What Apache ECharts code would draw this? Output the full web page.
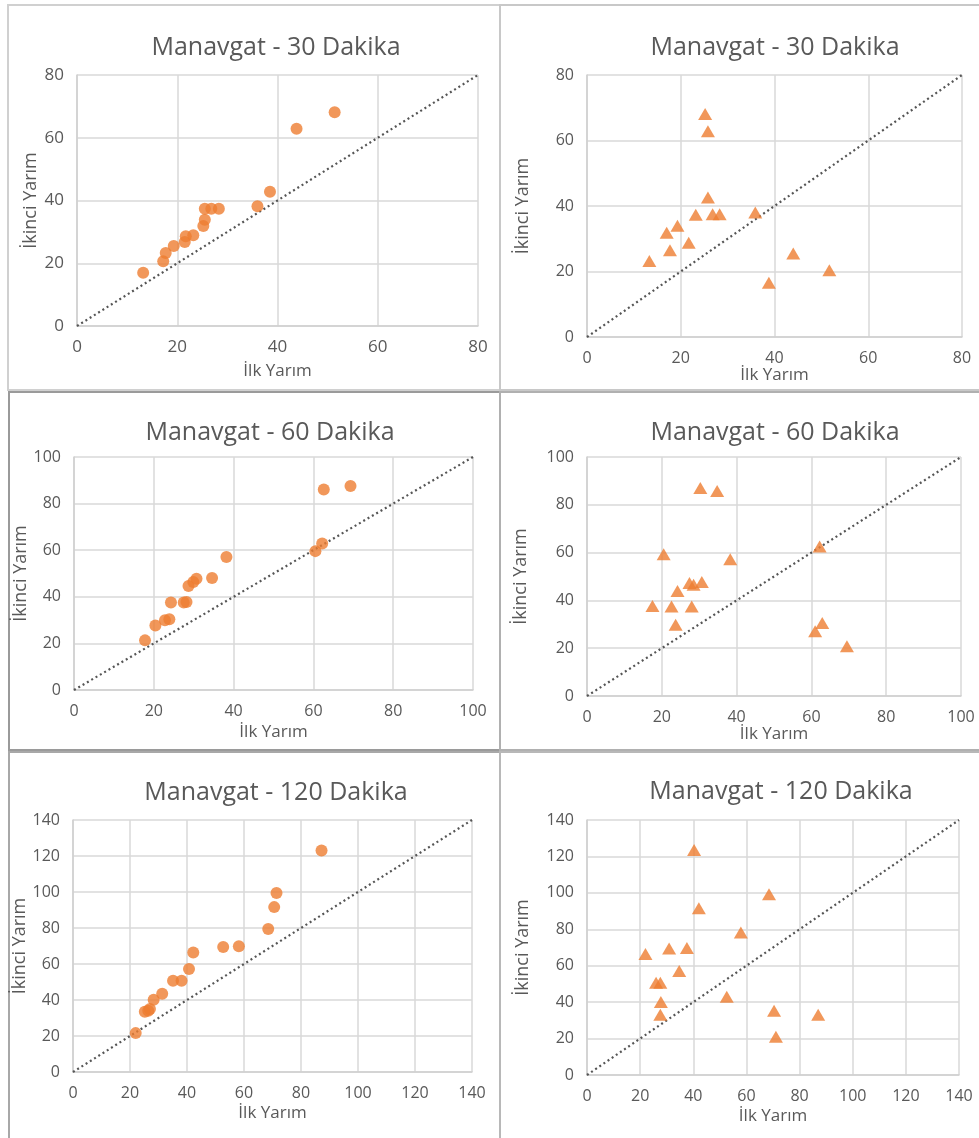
<!DOCTYPE html>
<html>
<head>
<meta charset="utf-8">
<script src="https://cdn.jsdelivr.net/npm/echarts@6/dist/echarts.min.js"></script>
<style>
  html, body { margin: 0; padding: 0; background: #fff; }
  #chart { width: 979px; height: 1138px; }
</style>
</head>
<body>
<div id="chart"></div>
<script>
// Manavgat: first-half vs second-half values for three durations
const ilk30A = [13.2, 17.2, 17.7, 19.3, 21.5, 21.7, 23.2, 25.2, 25.5, 25.5, 26.8, 28.3, 36.0, 38.5, 43.8, 51.4];
const ikinci30A = [17.0, 20.6, 23.3, 25.5, 26.8, 28.6, 28.9, 31.9, 33.9, 37.4, 37.4, 37.4, 38.2, 42.8, 62.9, 68.1];

const ilk30B = [25.2, 25.8, 25.8, 23.2, 26.8, 28.3, 35.9, 19.3, 17.0, 21.7, 17.7, 13.3, 44.0, 51.7, 38.8];
const ikinci30B = [68.1, 62.8, 42.6, 37.3, 37.5, 37.5, 38.0, 34.0, 31.8, 28.8, 26.5, 23.2, 25.5, 20.4, 16.6];

const ilk60A = [17.8, 20.4, 22.8, 23.9, 24.3, 27.5, 28.2, 28.7, 29.9, 30.7, 34.6, 38.2, 60.5, 62.2, 62.6, 69.3];
const ikinci60A = [21.3, 27.7, 29.9, 30.4, 37.6, 37.6, 37.8, 44.6, 46.4, 47.7, 48.1, 57.1, 59.6, 62.9, 86.1, 87.6];

const ilk60B = [30.3, 34.8, 20.5, 38.3, 27.4, 28.5, 30.7, 24.2, 17.5, 22.6, 28.0, 23.7, 62.2, 62.9, 61.0, 69.5];
const ikinci60B = [87.0, 85.8, 59.3, 57.2, 47.3, 46.6, 47.7, 43.9, 37.7, 37.4, 37.4, 29.8, 62.6, 30.5, 27.1, 20.8];

const ilk120A = [22.0, 25.2, 26.4, 27.0, 28.3, 31.3, 35.1, 38.1, 40.7, 42.2, 52.7, 58.2, 68.5, 70.6, 71.4, 87.2];
const ikinci120A = [21.6, 33.5, 34.0, 35.0, 40.1, 43.5, 50.7, 50.7, 57.2, 66.4, 69.4, 69.8, 79.4, 91.6, 99.4, 123.0];

const ilk120B = [40.3, 68.5, 42.1, 57.9, 22.0, 30.9, 37.6, 34.7, 26.0, 27.6, 27.8, 27.6, 52.6, 70.4, 87.0, 71.1];
const ikinci120B = [123.5, 99.2, 91.5, 78.3, 66.4, 69.4, 69.7, 57.1, 50.7, 50.7, 40.1, 33.1, 43.0, 35.3, 33.1, 21.0];

const titles = ['Manavgat - 30 Dakika', 'Manavgat - 30 Dakika', 'Manavgat - 60 Dakika',
                'Manavgat - 60 Dakika', 'Manavgat - 120 Dakika', 'Manavgat - 120 Dakika'];
const axisMax = [80, 80, 100, 100, 140, 140];
const xName = 'İlk Yarım';
const yName = 'İkinci Yarım';

const panels = [
  { x: ilk30A, y: ikinci30A, symbol: 'circle' },
  { x: ilk30B, y: ikinci30B, symbol: 'triangle' },
  { x: ilk60A, y: ikinci60A, symbol: 'circle' },
  { x: ilk60B, y: ikinci60B, symbol: 'triangle' },
  { x: ilk120A, y: ikinci120A, symbol: 'circle' },
  { x: ilk120B, y: ikinci120B, symbol: 'triangle' }
];

// plot rectangles: left, top, right, bottom (px)
const boxes = [
  [77, 75, 478, 326],
  [587, 75, 962, 337],
  [74, 457, 473, 690],
  [587, 457, 961, 696],
  [73, 820, 472, 1072],
  [587, 820, 959, 1075]
];
const titleY = [43, 43, 428, 428, 788, 787];
const titleX = [271, 770, 265, 770, 271, 776];
const xNameGap = [37, 26, 34, 30, 33, 33];
const yNameGap = [37, 55, 36, 57, 33, 55];
const tickSize = [17, 16, 16, 16, 16, 16];

const W = 979, H = 1138;
const ORANGE = '#ED7D31';
const TXT = '#595959';
const FONT = '"Open Sans", "Noto Sans", sans-serif';

const option = {
  animation: false,
  backgroundColor: '#fff',
  title: [], grid: [], xAxis: [], yAxis: [], series: [],
  graphic: [
    // panel frames
    { type: 'rect', shape: { x: 8, y: 5, width: 492, height: 385 }, style: { fill: 'none', stroke: '#d0d0d0', lineWidth: 2 } },
    { type: 'rect', shape: { x: 500, y: 5, width: 485, height: 385 }, style: { fill: 'none', stroke: '#c8c8c8', lineWidth: 2 } },
    { type: 'rect', shape: { x: 9, y: 392, width: 491, height: 358 }, style: { fill: 'none', stroke: '#9a9a9a', lineWidth: 2 } },
    { type: 'rect', shape: { x: 500, y: 392, width: 485, height: 358 }, style: { fill: 'none', stroke: '#b0b0b0', lineWidth: 2 } },
    { type: 'rect', shape: { x: 9, y: 752, width: 491, height: 390 }, style: { fill: 'none', stroke: '#a8a8a8', lineWidth: 2 } },
    { type: 'rect', shape: { x: 500, y: 752, width: 485, height: 390 }, style: { fill: 'none', stroke: '#b8b8b8', lineWidth: 2 } }
  ]
};

panels.forEach((p, i) => {
  const [l, t, r, b] = boxes[i];
  const m = axisMax[i];
  option.title.push({
    text: titles[i],
    left: titleX[i], top: titleY[i],
    textAlign: 'center', textVerticalAlign: 'middle',
    textStyle: { fontFamily: FONT, fontSize: 25, fontWeight: 'normal', color: TXT }
  });
  option.grid.push({ left: l, top: t, width: r - l, height: b - t, containLabel: false });
  const axisCommon = {
    gridIndex: i, type: 'value', min: 0, max: m, interval: 20,
    nameLocation: 'middle',
    axisLine: { show: true, lineStyle: { color: '#cfcfcf', width: 1.5 } },
    axisTick: { show: false },
    splitLine: { show: true, lineStyle: { color: '#d9d9d9', width: 1.5 } }
  };
  option.xAxis.push(Object.assign({}, axisCommon, {
    name: xName, nameGap: xNameGap[i],
    nameTextStyle: { fontFamily: FONT, fontSize: 17, color: TXT },
    axisLabel: { fontFamily: FONT, fontSize: tickSize[i], color: TXT, margin: 13 }
  }));
  option.yAxis.push(Object.assign({}, axisCommon, {
    name: yName, nameGap: yNameGap[i], nameRotate: 90,
    nameTextStyle: { fontFamily: FONT, fontSize: 18, color: TXT },
    axisLabel: { fontFamily: FONT, fontSize: tickSize[i], color: TXT, margin: 13 }
  }));
  // equality reference line y = x
  option.series.push({
    type: 'line', xAxisIndex: i, yAxisIndex: i,
    data: [[0, 0], [m, m]], symbol: 'none', silent: true,
    lineStyle: { color: '#555555', width: 2.2, type: [2, 3] },
    z: 3
  });
  option.series.push({
    type: 'scatter', xAxisIndex: i, yAxisIndex: i,
    data: p.x.map((v, k) => [v, p.y[k]]),
    symbol: p.symbol,
    symbolSize: p.symbol === 'circle' ? 12 : [14, 12],
    itemStyle: { color: ORANGE },
    z: 4
  });
});

const chart = echarts.init(document.getElementById('chart'), null, { renderer: 'canvas', width: W, height: H });
chart.setOption(option);
</script>
</body>
</html>
